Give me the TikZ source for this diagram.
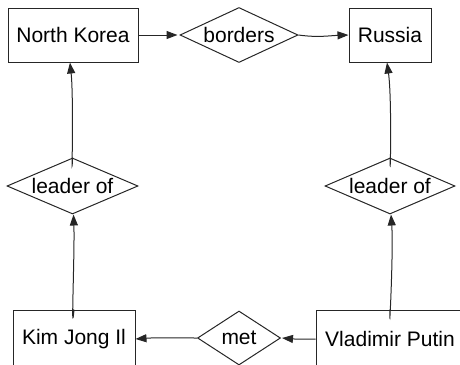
\documentclass[tikz,border=0pt]{standalone}
\usepackage{fontspec}
\setmainfont{Liberation Sans}
\usetikzlibrary{shapes.geometric,arrows.meta}
\begin{document}
\begin{tikzpicture}[x=1pt,y=-1pt,
  every node/.style={font=\fontsize{21pt}{25pt}\selectfont, text=black},
  entity/.style={draw=black!85, line width=1pt, rectangle, inner sep=0pt, minimum height=54pt},
  rel/.style={draw=black!85, line width=1pt, diamond, inner sep=0pt},
  conn/.style={draw=black!85, line width=1pt, -{Triangle[length=11pt,width=8pt]}}]
\useasboundingbox (0,0) rectangle (460,364);
\clip (0,0) rectangle (460,364);
% entities
\node[entity, minimum width=130pt] (nk) at (73,35) {North Korea};
\node[entity, minimum width=82pt] (ru) at (390,35) {Russia};
\node[entity, minimum width=122pt, minimum height=58pt] (kim) at (74,339) {Kim Jong Il};
\node[entity, minimum width=148pt, minimum height=58pt] (putin) at (390,339) {Vladimir Putin};
% relationships
\node[rel, shape aspect=2.15, minimum width=118pt, minimum height=55pt] (borders) at (239,35) {borders};
\node[rel, shape aspect=2.34, minimum width=131pt, minimum height=56pt] (leadl) at (72.5,186) {leader of};
\node[rel, shape aspect=2.34, minimum width=130pt, minimum height=56pt] (leadr) at (390,186) {leader of};
\node[rel, shape aspect=1.54, minimum width=83pt, minimum height=54pt] (met) at (239,338) {met};
% connectors
\draw[conn] (nk.east) -- ([xshift=-2pt]borders.west);
\draw[conn] (borders.east) to[out=-8,in=182] (ru.west);
\draw[conn] (leadl.north) to[out=-92,in=-84] ([xshift=-3pt]nk.south);
\draw[conn] (kim.north) to[out=-95,in=-88] ([xshift=1pt]leadl.south);
\draw[conn] (leadr.north) to[out=-90,in=-82] ([xshift=-3pt]ru.south);
\draw[conn] (putin.north) to[out=-92,in=-86] ([xshift=1pt]leadr.south);
\draw[conn] (putin.west) to[out=180,in=-5] ([xshift=1pt]met.east);
\draw[conn] (met.west) to[out=180,in=4] (kim.east);
\end{tikzpicture}
\end{document}
